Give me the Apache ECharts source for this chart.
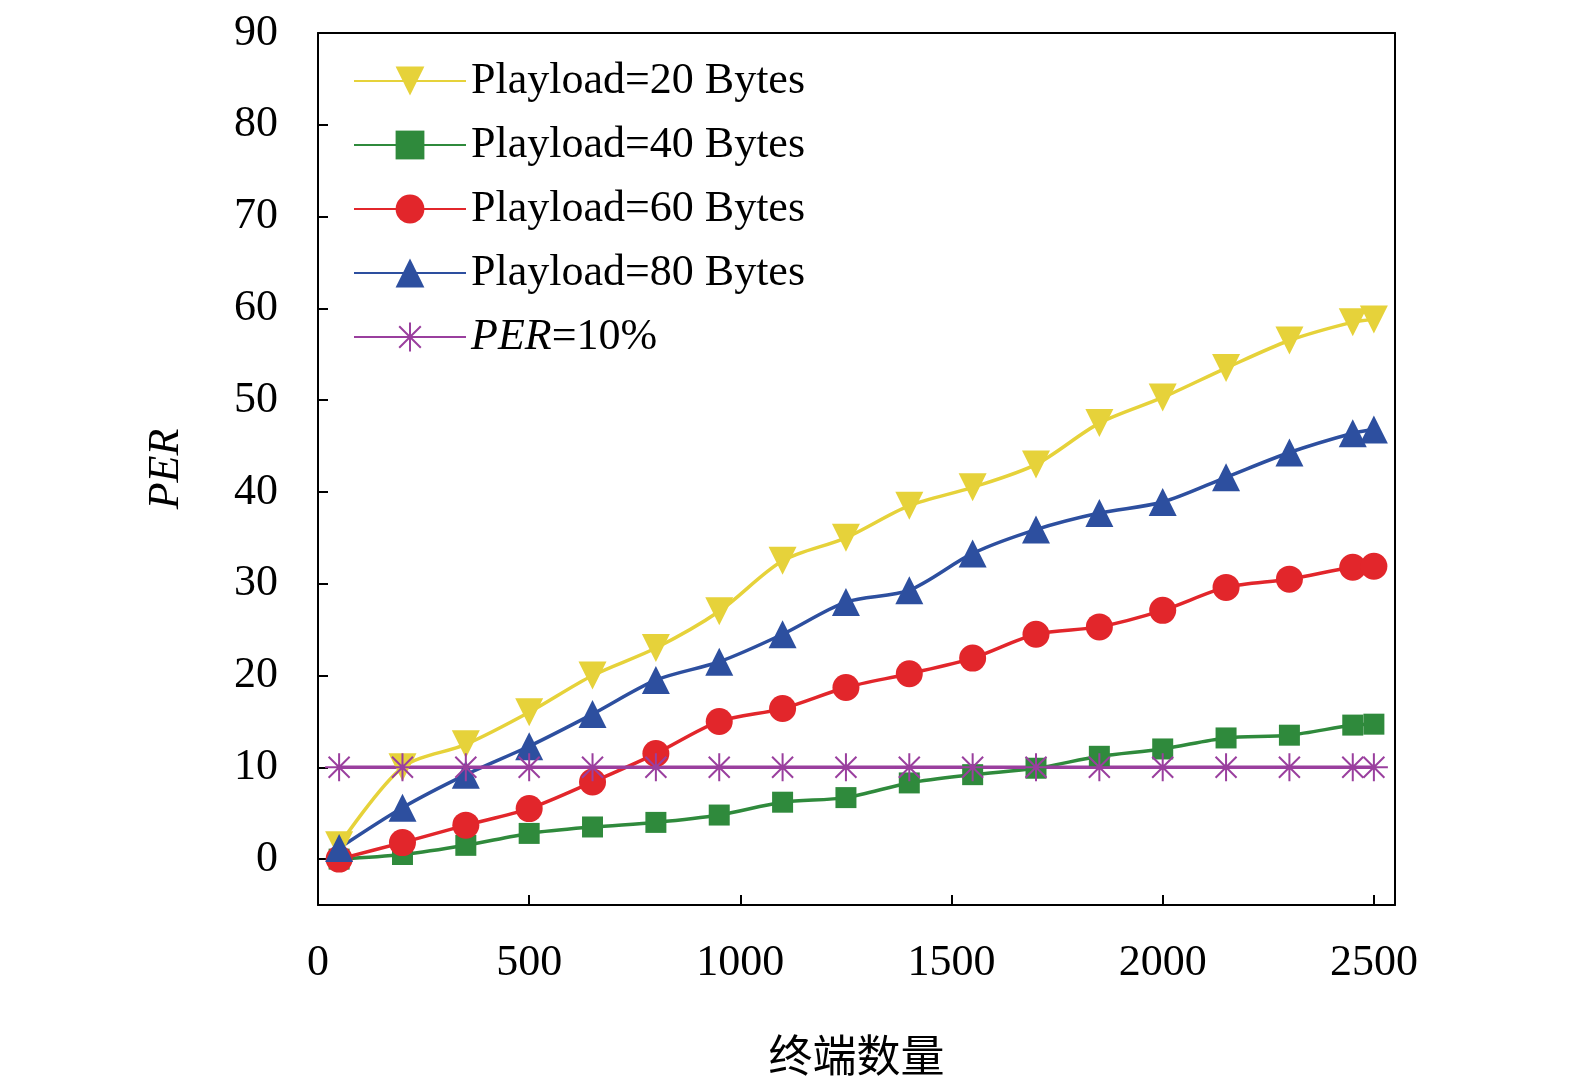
<!DOCTYPE html>
<html>
<head>
<meta charset="utf-8">
<script src="https://cdn.jsdelivr.net/npm/echarts@6/dist/echarts.min.js"></script>
<style>html,body{margin:0;padding:0;background:#fff}#chart{width:1575px;height:1083px}</style>
</head>
<body>
<div id="chart"></div>
<script>
const terminals = [50, 200, 350, 500, 650, 800, 950, 1100, 1250, 1400, 1550, 1700, 1850, 2000, 2150, 2300, 2450, 2500];
const per20 = [1.5, 10, 12.5, 16, 20, 23, 27, 32.5, 35, 38.5, 40.5, 43, 47.5, 50.3, 53.5, 56.5, 58.5, 58.8];
const per40 = [0, 0.5, 1.5, 2.8, 3.5, 4, 4.8, 6.2, 6.7, 8.3, 9.2, 9.9, 11.2, 12, 13.2, 13.5, 14.6, 14.7];
const per60 = [0, 1.8, 3.7, 5.5, 8.4, 11.5, 15, 16.4, 18.7, 20.2, 21.9, 24.5, 25.3, 27.1, 29.6, 30.5, 31.8, 31.9];
const per80 = [1.2, 5.6, 9.2, 12.3, 15.8, 19.5, 21.5, 24.5, 28, 29.3, 33.3, 35.9, 37.7, 38.9, 41.6, 44.3, 46.4, 46.8];
const perLimit = terminals.map(() => 10);
const xTicks = [0, 500, 1000, 1500, 2000, 2500];
const yTicks = [0, 10, 20, 30, 40, 50, 60, 70, 80, 90];

const serif = 'Liberation Serif';
const star = 'path://M0,-10L0,10M-10,0L10,0M-7.5,-7.5L7.5,7.5M-7.5,7.5L7.5,-7.5';
const pair = arr => terminals.map((x, i) => [x, arr[i]]);
const frame = { show: true, onZero: false, lineStyle: { color: '#000', width: 2 } };

function line(name, data, color, symbol, size, extra) {
    return Object.assign({
        name: name, type: 'line', data: pair(data), smooth: 0.3,
        symbol: symbol, symbolSize: size,
        lineStyle: { color: color, width: 3.5 },
        itemStyle: { color: color }
    }, extra || {});
}

const myChart = echarts.init(document.getElementById('chart'));
myChart.setOption({
    animation: false,
    grid: { left: 318, right: 180, top: 33, bottom: 178 },
    legend: {
        orient: 'vertical', left: 348, top: 54, itemGap: 20,
        itemWidth: 112, itemHeight: 36,
        textStyle: {
            fontFamily: serif, fontSize: 44, color: '#000',
            rich: { i: { fontFamily: serif, fontStyle: 'italic', fontSize: 44, color: '#000' } }
        },
        formatter: n => n.indexOf('PER') === 0 ? '{i|PER}=10%' : n,
        data: ['Playload=20 Bytes', 'Playload=40 Bytes', 'Playload=60 Bytes', 'Playload=80 Bytes', 'PER=10%']
    },
    xAxis: [{
        type: 'value', min: 0, max: 2550,
        name: '终端数量', nameLocation: 'middle', nameGap: 128,
        nameTextStyle: { fontFamily: 'Noto Sans CJK SC', fontSize: 44, color: '#000' },
        axisLine: frame,
        axisTick: { inside: true, length: 10, customValues: xTicks, lineStyle: { color: '#000', width: 2 } },
        axisLabel: { customValues: xTicks, formatter: v => String(v), fontFamily: serif, fontSize: 44, color: '#000', margin: 36 },
        splitLine: { show: false }
    }, {
        type: 'value', position: 'top', min: 0, max: 2550,
        axisLine: frame, axisTick: { show: false }, axisLabel: { show: false }, splitLine: { show: false }
    }],
    yAxis: [{
        type: 'value', min: -5, max: 90,
        name: 'PER', nameLocation: 'middle', nameGap: 130,
        nameTextStyle: { fontFamily: serif, fontStyle: 'italic', fontSize: 44, color: '#000' },
        axisLine: frame,
        axisTick: { show: true, inside: true, length: 10, customValues: yTicks, lineStyle: { color: '#000', width: 2 } },
        axisLabel: { customValues: yTicks, fontFamily: serif, fontSize: 44, color: '#000', margin: 40 },
        splitLine: { show: false }
    }, {
        type: 'value', position: 'right', min: -5, max: 90,
        axisLine: frame, axisTick: { show: false }, axisLabel: { show: false }, splitLine: { show: false }
    }],
    series: [
        line('Playload=20 Bytes', per20, '#e6d23a', 'triangle', 28, { symbolRotate: 180 }),
        line('Playload=40 Bytes', per40, '#2f8a3c', 'rect', 21),
        line('Playload=60 Bytes', per60, '#e2262b', 'circle', 27),
        line('Playload=80 Bytes', per80, '#2d4f9f', 'triangle', 28),
        line('PER=10%', perLimit, '#9a3f9e', star, 28, {
            smooth: false,
            itemStyle: { color: '#9a3f9e', borderColor: '#9a3f9e', borderWidth: 2 }
        })
    ]
});
</script>
</body>
</html>
